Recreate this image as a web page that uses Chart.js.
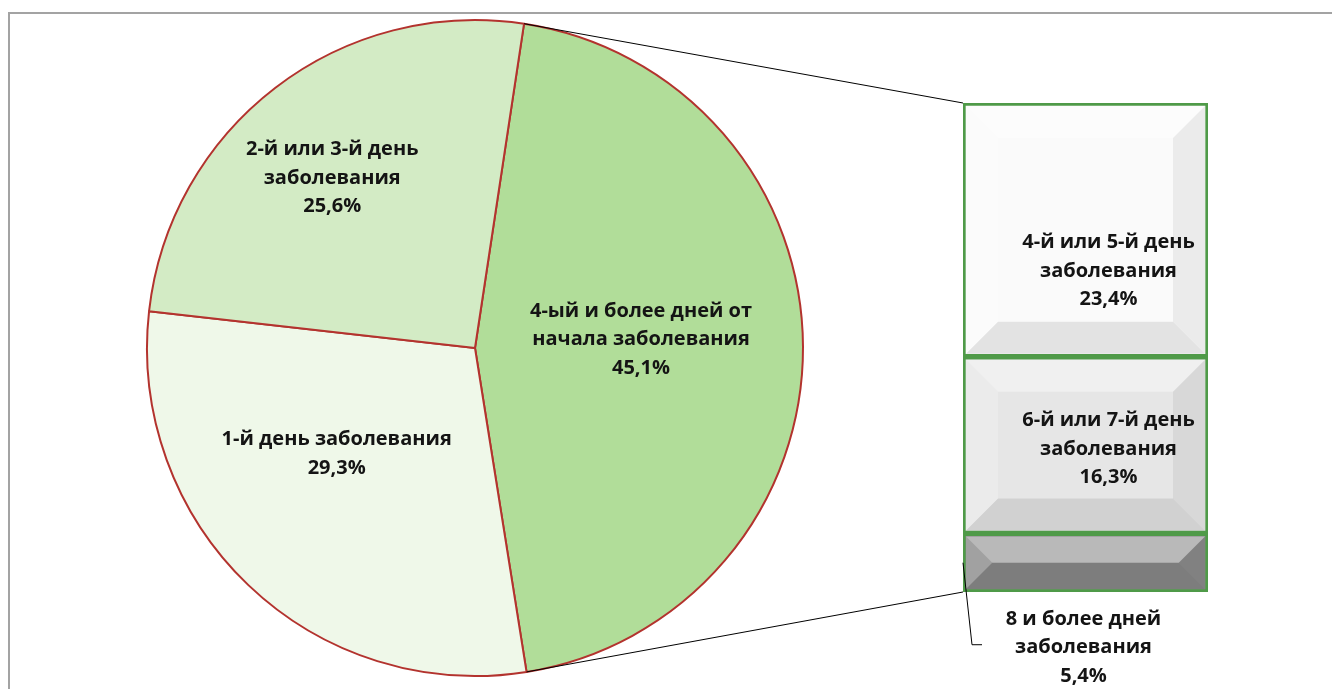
<!DOCTYPE html>
<html>
<head>
<meta charset="utf-8">
<script src="https://cdn.jsdelivr.net/npm/chart.js@4.4.1/dist/chart.umd.min.js"></script>
<style>
  html, body { margin: 0; padding: 0; background: #fff; }
  body { width: 1332px; height: 689px; position: relative; overflow: hidden; }
  .frame { position: absolute; left: 8px; top: 12px; width: 1400px; height: 800px;
           border-left: 2px solid #a3a3a3; border-top: 2px solid #a3a3a3; }
  canvas { position: absolute; left: 0; top: 0; }
</style>
</head>
<body>
<div class="frame"></div>
<canvas id="pieChart" width="1332" height="689"></canvas>
<canvas id="barChart" width="1332" height="689"></canvas>
<script>
// Pie: main categories (the first slice is split out into the bar)
const pieLabels = [
  ['4-ый и более дней от', 'начала заболевания'],
  ['1-й день заболевания'],
  ['2-й или 3-й день', 'заболевания']
];
const pieValues = [45.1, 29.3, 25.6];
const pieColors = ['#b1dd99', '#eff8e9', '#d3ebc5'];

// Bar: breakdown of "4 and more days" (bottom to top)
const barLabels = [
  ['8 и более дней', 'заболевания'],
  ['6-й или 7-й день', 'заболевания'],
  ['4-й или 5-й день', 'заболевания']
];
const barValues = [5.4, 16.3, 23.4];
const barColors = ['#8a8a8a', '#e6e6e6', '#fafafa'];

const FONT = 'bold 20px "Open Sans", Lato, sans-serif';
const LINE_H = 28.5;
const pct = v => v.toFixed(1).replace('.', ',') + '%';

// label offsets from the element centre (Excel puts them where it likes)
const pieShift = [[2, -8], [-25, -13], [-43, -40]];
const barShift = [[-2, 85], [23, 4], [23, 41]];

function drawBlock(ctx, lines, cx, cy) {
  ctx.save();
  ctx.font = FONT;
  ctx.fillStyle = '#141414';
  ctx.textAlign = 'center';
  ctx.textBaseline = 'middle';
  const y0 = cy - (lines.length - 1) * LINE_H / 2;
  lines.forEach((t, i) => ctx.fillText(t, cx, y0 + i * LINE_H));
  ctx.restore();
}

const pieLabelPlugin = {
  id: 'pieLabels',
  afterDatasetsDraw(chart) {
    const ctx = chart.ctx;
    chart.getDatasetMeta(0).data.forEach((arc, i) => {
      const p = arc.tooltipPosition();
      const lines = pieLabels[i].concat([pct(pieValues[i])]);
      drawBlock(ctx, lines, p.x + pieShift[i][0], p.y + pieShift[i][1]);
    });
  }
};

const pieChart = new Chart(document.getElementById('pieChart'), {
  type: 'pie',
  data: {
    labels: pieLabels.map(l => l.join(' ')),
    datasets: [{
      data: pieValues,
      backgroundColor: pieColors,
      borderColor: '#b3332e',
      borderWidth: 2,
      hoverOffset: 0
    }]
  },
  options: {
    responsive: false,
    animation: false,
    rotation: 8.6,
    radius: 328,
    layout: { padding: { left: 0, right: 382, top: 7, bottom: 0 } },
    events: [],
    plugins: { legend: { display: false }, tooltip: { enabled: false } }
  },
  plugins: [pieLabelPlugin]
});

const barDecorPlugin = {
  id: 'barDecor',
  afterDatasetsDraw(chart) {
    const ctx = chart.ctx;
    const bars = chart.data.datasets.map((d, i) => chart.getDatasetMeta(i).data[0]);

    // bevel facets
    bars.forEach(el => {
      const bw = 3;
      const l = el.x - el.width / 2 + bw, r = el.x + el.width / 2 - bw;
      const t = el.y + bw, b = el.base - bw;
      const s = Math.min(32, (b - t) / 2);
      const facet = (pts, fill) => {
        ctx.beginPath();
        ctx.moveTo(pts[0][0], pts[0][1]);
        pts.slice(1).forEach(p => ctx.lineTo(p[0], p[1]));
        ctx.closePath();
        ctx.fillStyle = fill;
        ctx.fill();
      };
      ctx.save();
      facet([[l, t], [r, t], [r - s, t + s], [l + s, t + s]], 'rgba(255,255,255,0.4)');
      facet([[l, t], [l + s, t + s], [l + s, b - s], [l, b]], 'rgba(255,255,255,0.2)');
      facet([[r, t], [r - s, t + s], [r - s, b - s], [r, b]], 'rgba(0,0,0,0.06)');
      facet([[l, b], [l + s, b - s], [r - s, b - s], [r, b]], 'rgba(0,0,0,0.09)');
      ctx.restore();
    });

    // labels
    bars.forEach((el, i) => {
      const cy = (el.y + el.base) / 2;
      const lines = barLabels[i].concat([pct(barValues[i])]);
      drawBlock(ctx, lines, el.x + barShift[i][0], cy + barShift[i][1]);
    });

    // leader line of the small segment
    const small = bars[0];
    const sl = small.x - small.width / 2;
    const sy = (small.y + small.base) / 2;
    const ly = sy + barShift[0][1] - 3;
    ctx.save();
    ctx.strokeStyle = '#000';
    ctx.lineWidth = 1;
    ctx.beginPath();
    ctx.moveTo(sl, sy);
    ctx.lineTo(sl + 9, ly);
    ctx.lineTo(sl + 19, ly);
    ctx.stroke();

    // connectors from the split-out slice to the bar
    const arc = pieChart.getDatasetMeta(0).data[0];
    const top = bars[bars.length - 1];
    const bl = top.x - top.width / 2;
    const a1 = arc.startAngle, a2 = arc.endAngle, R = arc.outerRadius;
    ctx.beginPath();
    ctx.moveTo(arc.x + R * Math.cos(a1), arc.y + R * Math.sin(a1));
    ctx.lineTo(bl, top.y);
    ctx.moveTo(arc.x + R * Math.cos(a2), arc.y + R * Math.sin(a2));
    ctx.lineTo(bl, small.base);
    ctx.stroke();
    ctx.restore();
  }
};

const barChart = new Chart(document.getElementById('barChart'), {
  type: 'bar',
  data: {
    labels: [''],
    datasets: barValues.map((v, i) => ({
      data: [v],
      backgroundColor: barColors[i],
      borderColor: '#4f9a48',
      borderWidth: 3,
      borderSkipped: false,
      barPercentage: 1,
      categoryPercentage: 1
    }))
  },
  options: {
    responsive: false,
    animation: false,
    events: [],
    layout: { padding: { left: 963, right: 124, top: 103, bottom: 97 } },
    scales: {
      x: { stacked: true, display: false },
      y: { stacked: true, display: false, min: 0, max: barValues.reduce((a, b) => a + b, 0) }
    },
    plugins: { legend: { display: false }, tooltip: { enabled: false } }
  },
  plugins: [barDecorPlugin]
});
</script>
</body>
</html>
